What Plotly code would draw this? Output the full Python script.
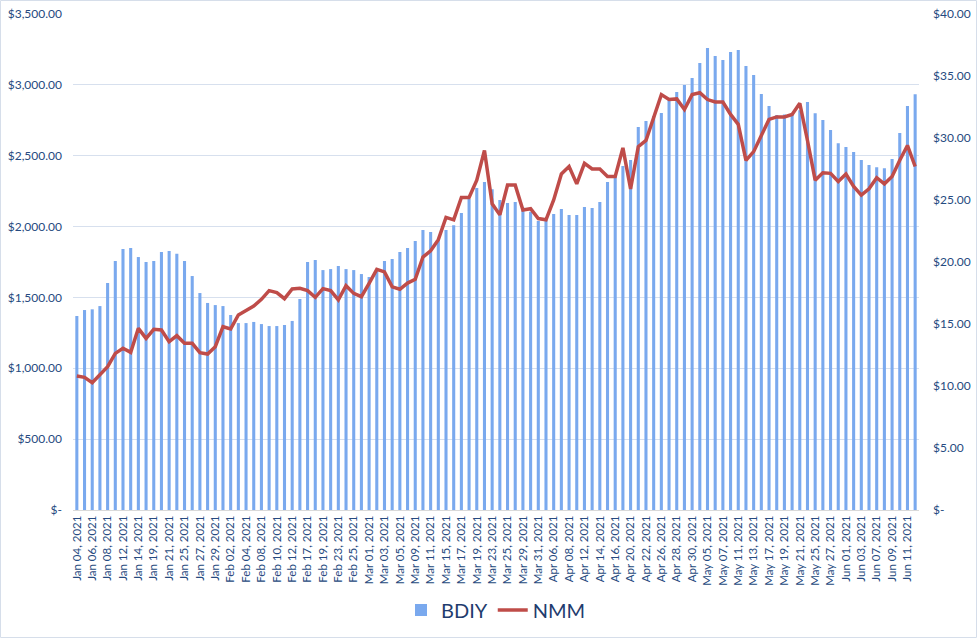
import plotly.graph_objects as go

# ---------------- data ----------------
jan = ["04", "05", "06", "07", "08", "11", "12", "13", "14", "15", "19", "20", "21", "22", "25", "26", "27", "28", "29"]
feb = ["01", "02", "03", "04", "05", "08", "09", "10", "11", "12", "16", "17", "18", "19", "22", "23", "24", "25", "26"]
mar = ["01", "02", "03", "04", "05", "08", "09", "10", "11", "12", "15", "16", "17", "18", "19", "22", "23", "24", "25", "26", "29", "30", "31"]
apr = ["01", "06", "07", "08", "09", "12", "13", "14", "15", "16", "19", "20", "21", "22", "23", "26", "27", "28", "29", "30"]
may = ["04", "05", "06", "07", "10", "11", "12", "13", "14", "17", "18", "19", "20", "21", "24", "25", "26", "27", "28"]
jun = ["01", "02", "03", "04", "07", "08", "09", "10", "11", "14"]

dates = ([f"Jan {d}, 2021" for d in jan] + [f"Feb {d}, 2021" for d in feb] +
         [f"Mar {d}, 2021" for d in mar] + [f"Apr {d}, 2021" for d in apr] +
         [f"May {d}, 2021" for d in may] + [f"Jun {d}, 2021" for d in jun])

bdiy = [1369, 1411, 1416, 1439, 1602, 1757, 1842, 1849, 1785, 1750,
        1757, 1820, 1827, 1809, 1757, 1651, 1531, 1461, 1446, 1439,
        1376, 1319, 1319, 1327, 1312, 1298, 1298, 1305, 1334, 1489,
        1750, 1764, 1693, 1700, 1722, 1700, 1693, 1665, 1644, 1700,
        1757, 1771, 1820, 1849, 1898, 1976, 1961, 1905, 1976, 2009,
        2096, 2194, 2272, 2314, 2263, 2187, 2166, 2173, 2135, 2105,
        2039, 2046, 2089, 2124, 2081, 2081, 2138, 2131, 2173, 2314,
        2357, 2427, 2470, 2702, 2745, 2780, 2801, 2893, 2949, 2999,
        3048, 3154, 3260, 3203, 3175, 3232, 3246, 3133, 3069, 2935,
        2851, 2787, 2790, 2792, 2820, 2879, 2800, 2752, 2681, 2588,
        2562, 2526, 2470, 2434, 2418, 2411, 2476, 2661, 2851, 2934]

nmm = [10.81, 10.70, 10.27, 10.89, 11.56, 12.63, 13.04, 12.71, 14.65, 13.84,
       14.57, 14.52, 13.58, 14.06, 13.44, 13.44, 12.69, 12.58, 13.17, 14.78,
       14.60, 15.73, 16.07, 16.45, 16.99, 17.69, 17.53, 17.04, 17.82, 17.88,
       17.69, 17.15, 17.85, 17.69, 16.94, 18.09, 17.47, 17.20, 18.28, 19.40,
       19.20, 18.00, 17.80, 18.30, 18.60, 20.40, 20.90, 21.80, 23.60, 23.40,
       25.20, 25.20, 26.60, 29.00, 24.70, 23.80, 26.20, 26.20, 24.20, 24.30,
       23.50, 23.40, 25.00, 27.10, 27.70, 26.30, 27.96, 27.50, 27.50, 26.90,
       26.90, 29.20, 25.90, 29.30, 29.80, 31.70, 33.50, 33.10, 33.15, 32.30,
       33.50, 33.65, 33.10, 32.90, 32.90, 31.90, 31.10, 28.20, 28.90, 30.20,
       31.50, 31.70, 31.70, 31.90, 32.80, 29.80, 26.60, 27.20, 27.15, 26.50,
       27.10, 26.10, 25.40, 25.90, 26.80, 26.30, 26.90, 28.20, 29.40, 27.70]

left_ticks = [0, 500, 1000, 1500, 2000, 2500, 3000, 3500]
left_text = ["$-", "$500.00", "$1,000.00", "$1,500.00", "$2,000.00", "$2,500.00", "$3,000.00", "$3,500.00"]
right_ticks = [0, 5, 10, 15, 20, 25, 30, 35, 40]
right_text = ["$-", "$5.00", "$10.00", "$15.00", "$20.00", "$25.00", "$30.00", "$35.00", "$40.00"]

# ---------------- styling ----------------
W, H = 978, 639
ML, MR, MT, MB = 73, 59, 14, 129
PW, PH = W - ML - MR, H - MT - MB
TXT = "#264a80"
FONT = "Lato, 'Open Sans', sans-serif"

fig = go.Figure()
fig.add_trace(go.Bar(
    x=dates, y=bdiy, name="BDIY",
    marker=dict(color="#7aa9ee", line=dict(width=0)),
    yaxis="y",
))
fig.add_trace(go.Scatter(
    x=dates, y=nmm, name="NMM", mode="lines",
    line=dict(color="#bf4c49", width=3.5),
    yaxis="y2",
))

fig.update_layout(
    width=W, height=H,
    margin=dict(l=ML, r=MR, t=MT, b=MB, autoexpand=False),
    paper_bgcolor="white", plot_bgcolor="white",
    font=dict(family=FONT, color=TXT, size=12),
    bargap=0.6,
    showlegend=True,
    legend=dict(orientation="h", x=0.5, xanchor="center", y=-(610 - (MT + PH)) / PH,
                yanchor="middle", font=dict(size=20, color="#1f3c6e"),
                bgcolor="rgba(0,0,0,0)", itemwidth=30),
    xaxis=dict(
        type="category", tickangle=-90, automargin=False,
        tickvals=dates[::2], ticktext=dates[::2],
        tickfont=dict(size=11.5, color=TXT),
        showgrid=False, showline=True, linecolor="#d9d9d9", linewidth=1,
        ticks="", range=[-0.5, len(dates) - 0.5],
    ),
    yaxis=dict(
        range=[0, 3500], tickvals=left_ticks, ticktext=left_text, automargin=False,
        showgrid=True, gridcolor="#d7e0ee", gridwidth=1,
        zeroline=False, showline=False, ticks="",
        tickfont=dict(size=12, color=TXT), ticklabelstandoff=10,
    ),
    yaxis2=dict(
        range=[0, 40], tickvals=right_ticks, ticktext=right_text, automargin=False,
        overlaying="y", side="right", showgrid=False, zeroline=False,
        showline=False, ticks="", tickfont=dict(size=12, color=TXT),
        ticklabelstandoff=13,
    ),
)

# outer chart border
fig.add_shape(type="rect", xref="paper", yref="paper",
              x0=-(ML - 0.5) / PW, x1=1 + (MR - 1.5) / PW,
              y0=-(MB - 1.5) / PH, y1=1 + (MT - 0.5) / PH,
              line=dict(color="#d6deea", width=1), fillcolor="rgba(0,0,0,0)",
              layer="below")

fig.write_html("out.html")
